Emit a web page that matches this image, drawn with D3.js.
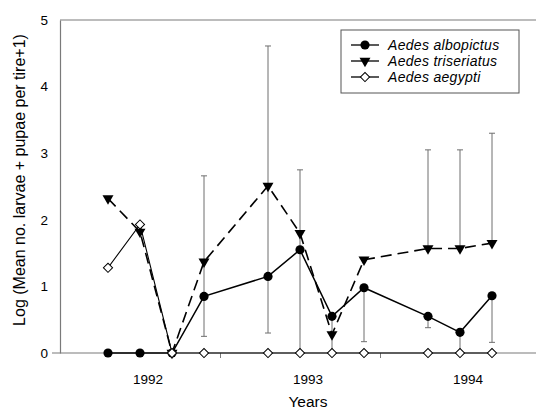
<!DOCTYPE html>
<html>
<head>
<meta charset="utf-8">
<script src="https://cdn.jsdelivr.net/npm/d3@7/dist/d3.min.js"></script>
<style>
  html, body { margin: 0; padding: 0; background: #fff; }
  svg { display: block; }
  text { font-family: "Liberation Sans", Arial, Helvetica, sans-serif; fill: #000; }
</style>
</head>
<body>
<svg id="chart" width="536" height="409"></svg>
<script>
// Sampling dates (fractional years) and log abundance per tire for each species
const sampleDates = [1992.3, 1992.5, 1992.7, 1992.9, 1993.3, 1993.5, 1993.7, 1993.9, 1994.3, 1994.5, 1994.7];
const albopictus      = [0, 0, 0, 0.85, 1.15, 1.55, 0.55, 0.98, 0.55, 0.31, 0.86];
const albopictusMinus = [0, 0, 0, 0.60, 0.85, 1.55, 0.55, 0.81, 0.17, 0.31, 0.70];
const triseriatus      = [2.32, 1.82, 0, 1.37, 2.51, 1.80, 0.28, 1.40, 1.57, 1.57, 1.65];
const triseriatusPlus  = [0, 0, 0, 1.29, 2.10, 0.95, 0, 0, 1.48, 1.48, 1.65];
const triseriatusMinus = [0, 0, 0, 0.52, 1.36, 0.25, 0, 0, 0, 0, 0];
const aegypti = [1.28, 1.93, 0, 0, 0, 0, 0, 0, 0, 0, 0];

const yearLabels = [1992, 1993, 1994];
const yearBoundaries = [1993, 1994];
const yTicks = [0, 1, 2, 3, 4, 5];
const seriesNames = ["Aedes albopictus", "Aedes triseriatus", "Aedes aegypti"];

const svg = d3.select("#chart");
const axisColor = "#7a7a7a";

const x = d3.scaleLinear().domain([1992, 1995]).range([60, 540]);
const y = d3.scaleLinear().domain([0, 5]).range([353, 20]);

// Frame: top border line
svg.append("line")
  .attr("x1", x(1992)).attr("x2", 536)
  .attr("y1", y(5)).attr("y2", y(5))
  .attr("stroke", axisColor).attr("stroke-width", 1.2);

// Y axis
const yAxis = svg.append("g")
  .attr("transform", `translate(${x(1992)},0)`)
  .call(d3.axisLeft(y).tickValues(yTicks).tickFormat(d3.format("d"))
    .tickSizeInner(0).tickSizeOuter(0).tickPadding(12));
yAxis.select(".domain").attr("stroke", axisColor).attr("stroke-width", 1.2);
yAxis.selectAll("text").style("font-size", "13.5px").attr("fill", "#000");

// X axis
const xAxis = svg.append("g")
  .attr("transform", `translate(0,${y(0)})`)
  .call(d3.axisBottom(x).tickValues(yearBoundaries).tickFormat("")
    .tickSizeInner(5).tickSizeOuter(0));
xAxis.select(".domain").remove();
xAxis.selectAll(".tick line").attr("stroke", axisColor);
svg.append("line")
  .attr("x1", 52).attr("x2", 536)
  .attr("y1", y(0)).attr("y2", y(0))
  .attr("stroke", axisColor).attr("stroke-width", 1.2);

// Year labels
svg.append("g").selectAll("text")
  .data(yearLabels).join("text")
  .attr("x", d => x(d + 0.55))
  .attr("y", 384)
  .attr("text-anchor", "middle")
  .style("font-size", "13.5px")
  .text(d => d);

// Axis titles
svg.append("text")
  .attr("x", 308).attr("y", 407)
  .attr("text-anchor", "middle")
  .style("font-size", "15.5px")
  .text("Years");
svg.append("text")
  .attr("transform", `translate(25,180) rotate(-90)`)
  .attr("text-anchor", "middle")
  .style("font-size", "16px")
  .text("Log (Mean no. larvae + pupae per tire+1)");

// Error bars
const errColor = "#6e6e6e";
const capW = 3;
const errG = svg.append("g").attr("stroke", errColor).attr("stroke-width", 1);
function drawBar(xv, from, to, cap) {
  errG.append("line")
    .attr("x1", x(xv)).attr("x2", x(xv))
    .attr("y1", y(from)).attr("y2", y(to));
  if (cap) {
    errG.append("line")
      .attr("x1", x(xv) - capW).attr("x2", x(xv) + capW)
      .attr("y1", y(to)).attr("y2", y(to));
  }
}
sampleDates.forEach((d, i) => {
  if (triseriatusPlus[i] > 0) drawBar(d, triseriatus[i], triseriatus[i] + triseriatusPlus[i], true);
  if (triseriatusMinus[i] > 0) drawBar(d, triseriatus[i], triseriatus[i] - triseriatusMinus[i], true);
  if (albopictusMinus[i] > 0) drawBar(d, albopictus[i], Math.max(0, albopictus[i] - albopictusMinus[i]), albopictus[i] - albopictusMinus[i] > 0.01);
});

// Series lines
const line = d3.line().x(d => x(d[0])).y(d => y(d[1]));
const pts = arr => sampleDates.map((d, i) => [d, arr[i]]);

svg.append("path").datum(pts(albopictus))
  .attr("d", line).attr("fill", "none").attr("stroke", "#000").attr("stroke-width", 1.5);
svg.append("path").datum(pts(triseriatus))
  .attr("d", line).attr("fill", "none").attr("stroke", "#000").attr("stroke-width", 1.6)
  .attr("stroke-dasharray", "11,6");
svg.append("path").datum(pts(aegypti))
  .attr("d", line).attr("fill", "none").attr("stroke", "#000").attr("stroke-width", 1.1);

// Marker shapes
const circleSym = d3.symbol().type(d3.symbolCircle).size(66);
const triSym = d3.symbol().type(d3.symbolTriangle).size(52);
const diamondSym = d3.symbol().type(d3.symbolSquare).size(42);

function circleMark(g, cx, cy) {
  g.append("path").attr("d", circleSym()).attr("transform", `translate(${cx},${cy})`)
    .attr("fill", "#000");
}
function triMark(g, cx, cy) {
  g.append("path").attr("d", triSym()).attr("transform", `translate(${cx},${cy}) rotate(180)`)
    .attr("fill", "#000");
}
function diamondMark(g, cx, cy) {
  g.append("path").attr("d", diamondSym()).attr("transform", `translate(${cx},${cy}) rotate(45)`)
    .attr("fill", "#fff").attr("stroke", "#000").attr("stroke-width", 1);
}

const markG = svg.append("g");
sampleDates.forEach((d, i) => circleMark(markG, x(d), y(albopictus[i])));
sampleDates.forEach((d, i) => triMark(markG, x(d), y(triseriatus[i])));
sampleDates.forEach((d, i) => diamondMark(markG, x(d), y(aegypti[i])));

// Legend
const lg = svg.append("g");
lg.append("rect")
  .attr("x", 341).attr("y", 30).attr("width", 178).attr("height", 63)
  .attr("fill", "#fff").attr("stroke", "#555").attr("stroke-width", 1);
const legendRows = [45, 61, 77];
const markers = [circleMark, triMark, diamondMark];
seriesNames.forEach((name, i) => {
  const ly = legendRows[i];
  lg.append("line").attr("x1", 351).attr("x2", 379).attr("y1", ly).attr("y2", ly)
    .attr("stroke", "#000").attr("stroke-width", 1.3);
  markers[i](lg, 365, ly);
  lg.append("text")
    .attr("x", 388).attr("y", ly + 5)
    .style("font-size", "14px").style("font-style", "italic")
    .style("letter-spacing", "0.3px")
    .text(name);
});
</script>
</body>
</html>
